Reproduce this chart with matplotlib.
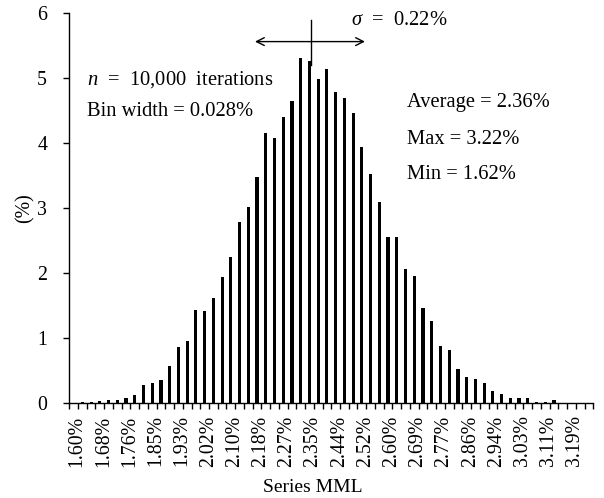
import matplotlib
matplotlib.use("Agg")
import matplotlib.pyplot as plt
import numpy as np

plt.rcParams['font.family'] = ['Liberation Serif', 'DejaVu Serif']
plt.rcParams['mathtext.fontset'] = 'custom'
plt.rcParams['mathtext.rm'] = 'Liberation Serif'
plt.rcParams['mathtext.it'] = 'Liberation Serif:italic'

# percentage of iterations per bin (60 bins, width 0.028%)
freq = [0.0, 0.01, 0.02, 0.03, 0.04, 0.04, 0.08, 0.13, 0.27, 0.30,
        0.35, 0.57, 0.86, 0.95, 1.43, 1.42, 1.61, 1.94, 2.25, 2.78,
        3.02, 3.47, 4.15, 4.08, 4.40, 4.65, 5.31, 5.26, 4.98, 5.14,
        4.78, 4.69, 4.46, 3.94, 3.53, 3.09, 2.55, 2.56, 2.06, 1.96,
        1.46, 1.26, 0.88, 0.82, 0.52, 0.40, 0.37, 0.31, 0.19, 0.14,
        0.07, 0.08, 0.07, 0.01, 0.02, 0.04, 0.005, 0.0, 0.0, 0.0]

tick_labels = ["1.60%", "1.68%", "1.76%", "1.85%", "1.93%", "2.02%", "2.10%",
               "2.18%", "2.27%", "2.35%", "2.44%", "2.52%", "2.60%", "2.69%",
               "2.77%", "2.86%", "2.94%", "3.03%", "3.11%", "3.19%"]
label_every = 3

fig = plt.figure(figsize=(6.04, 4.98), dpi=100)
ax = fig.add_axes([0.1147, 0.1908, 0.8676, 0.7831])

n = len(freq)
x = np.arange(n)
ax.bar(x, freq, width=0.36, color='black')

ax.set_xlim(-0.5, n - 0.5)
ax.set_ylim(0, 6)

ax.set_xticks(x[::label_every][:len(tick_labels)] + 0.4)
ax.set_xticklabels(tick_labels, rotation=90, fontsize=14.3)
ax.tick_params(axis='x', which='major', length=0, pad=9)
ax.set_xticks(np.arange(-0.5, n, 1.0), minor=True)
ax.tick_params(axis='x', which='minor', length=4, width=1, direction='out')

ax.set_yticks(range(0, 7))
ax.tick_params(axis='y', length=4, width=1, direction='out', labelsize=14.3, pad=12)

for s in ['top', 'right']:
    ax.spines[s].set_visible(False)
for s in ['left', 'bottom']:
    ax.spines[s].set_linewidth(1.0)

fig.text(25 / 604, 1 - 208 / 498, "(%)", rotation=90, ha='center', va='center', fontsize=14.3)
fig.text(313 / 604, 1 - 487 / 498, "Series MML", ha='center', va='center', fontsize=14)

# annotations
fs = 14.8
ax.text(1.5, 4.98, "$n$  =  10,000  iterations", fontsize=fs, ha='left', va='center')
ax.text(1.5, 4.48, "Bin width = 0.028%", fontsize=fs, ha='left', va='center')
ax.text(38.2, 4.63, "Average = 2.36%", fontsize=fs, ha='left', va='center')
ax.text(38.2, 4.06, "Max = 3.22%", fontsize=fs, ha='left', va='center')
ax.text(38.2, 3.52, "Min = 1.62%", fontsize=fs, ha='left', va='center')
ax.text(31.8, 5.89, "$\\sigma$  =  0.22%", fontsize=fs, ha='left', va='center')

ax.annotate("", xy=(20.76, 5.56), xytext=(33.36, 5.56),
            arrowprops=dict(arrowstyle='<->', color='black', lw=1.0,
                            mutation_scale=14, shrinkA=0, shrinkB=0))
ax.plot([27.15, 27.15], [5.89, 5.2], color='black', lw=1.0)

fig.savefig("out.png", dpi=100)
